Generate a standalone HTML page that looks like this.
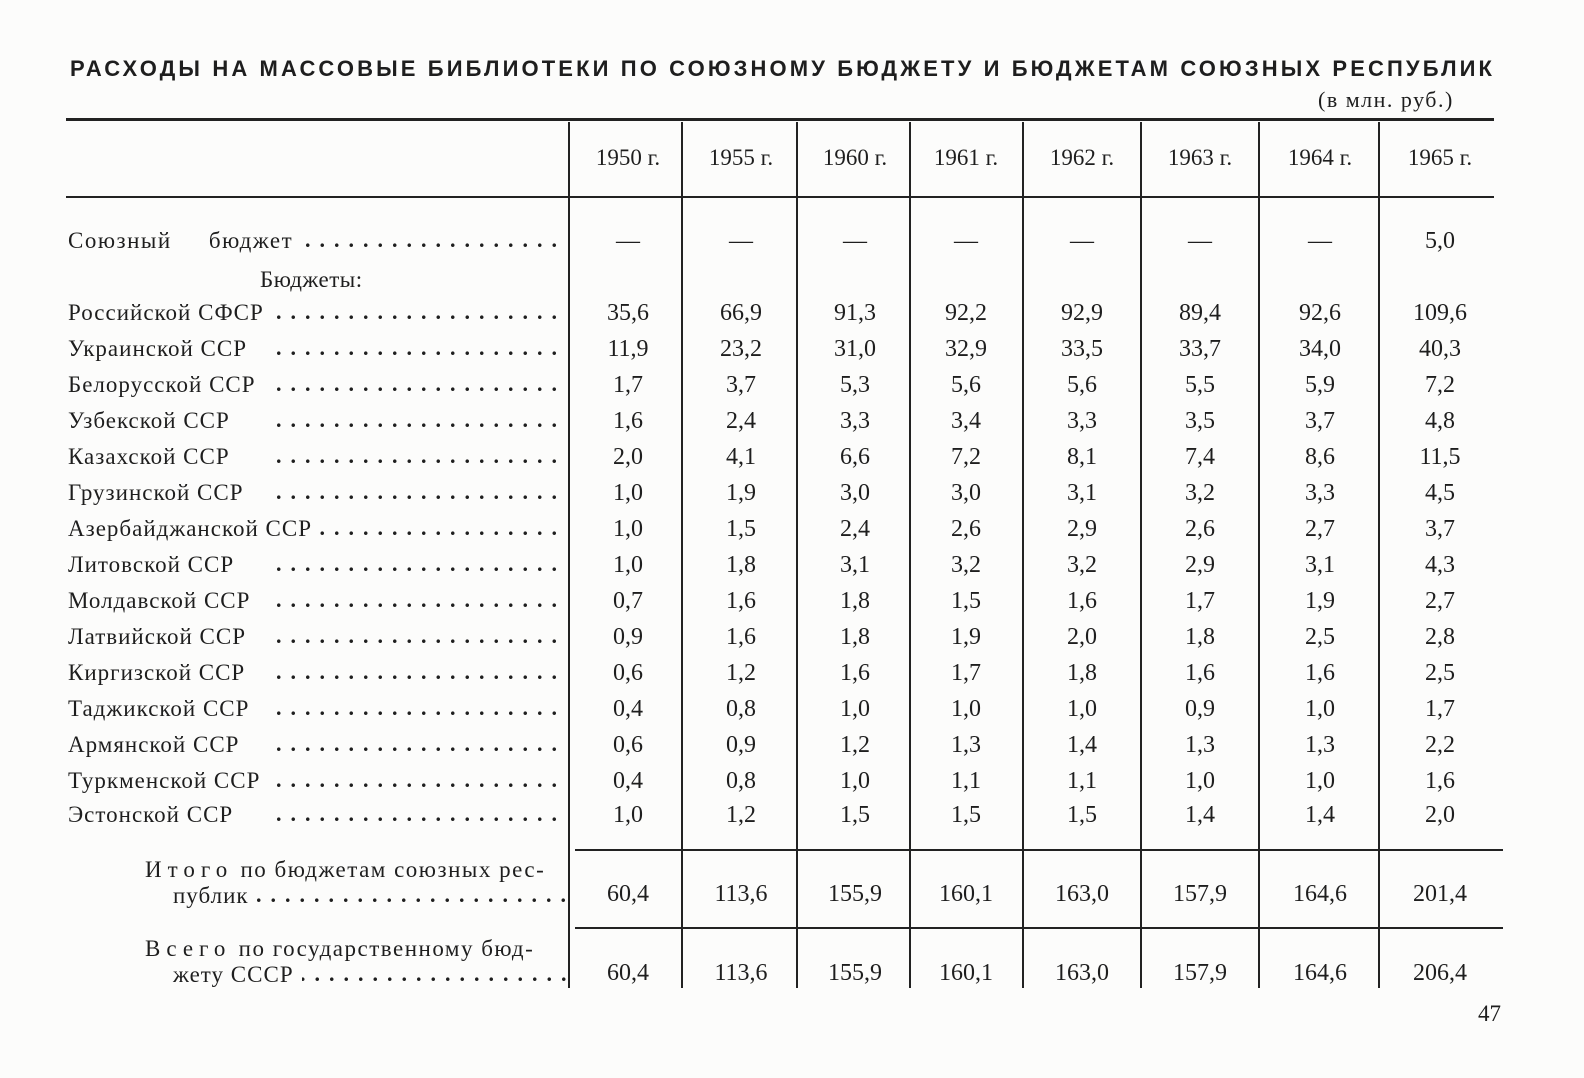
<!DOCTYPE html>
<html><head><meta charset="utf-8"><style>
body{margin:0;width:1584px;height:1078px;background:#fcfcfb;position:relative;overflow:hidden;font-family:"Liberation Serif",serif;color:#1e1e1e}
div{position:absolute;white-space:nowrap;line-height:1}
.t{font-size:23px}
.v{font-size:24px;width:110px;text-align:center}
.h{position:absolute;background:#222}
.d{font-size:22px;letter-spacing:9px;overflow:hidden;font-weight:bold}
</style></head><body>
<svg style="position:absolute;left:0;top:0" width="1584" height="100"><text x="70" y="76" font-family="Liberation Sans, sans-serif" font-weight="bold" font-size="22" textLength="1422" lengthAdjust="spacing" fill="#1e1e1e">РАСХОДЫ НА МАССОВЫЕ БИБЛИОТЕКИ ПО СОЮЗНОМУ БЮДЖЕТУ И БЮДЖЕТАМ СОЮЗНЫХ РЕСПУБЛИК</text></svg>
<div class="t" style="left:1318px;top:89px;font-size:22px;letter-spacing:1.5px">(в млн. руб.)</div>
<div class="h" style="left:66px;top:118px;width:1428px;height:3px"></div>
<div class="h" style="left:66px;top:196px;width:1428px;height:2px"></div>
<div class="h" style="left:575px;top:849px;width:928px;height:2px"></div>
<div class="h" style="left:575px;top:927px;width:928px;height:2px"></div>
<div class="h" style="left:568px;top:122px;width:2px;height:866px"></div>
<div class="h" style="left:681px;top:122px;width:2px;height:866px"></div>
<div class="h" style="left:796px;top:122px;width:2px;height:866px"></div>
<div class="h" style="left:909px;top:122px;width:2px;height:866px"></div>
<div class="h" style="left:1022px;top:122px;width:2px;height:866px"></div>
<div class="h" style="left:1140px;top:122px;width:2px;height:866px"></div>
<div class="h" style="left:1258px;top:122px;width:2px;height:866px"></div>
<div class="h" style="left:1378px;top:122px;width:2px;height:866px"></div>
<div id="c"></div>
<script>
var cx=[628,741,855,966,1082,1200,1320,1440];
var H=["1950 г.","1955 г.","1960 г.","1961 г.","1962 г.","1963 г.","1964 г.","1965 г."];
var s="";
H.forEach((h,i)=>{s+=`<div class="v" style="left:${cx[i]-55}px;top:146px;font-size:23px">${h}</div>`});
var R=[
["Союзный бюджет",248,["—","—","—","—","—","—","—","5,0"]],
["Российской СФСР",320,["35,6","66,9","91,3","92,2","92,9","89,4","92,6","109,6"]],
["Украинской ССР",356,["11,9","23,2","31,0","32,9","33,5","33,7","34,0","40,3"]],
["Белорусской ССР",392,["1,7","3,7","5,3","5,6","5,6","5,5","5,9","7,2"]],
["Узбекской ССР",428,["1,6","2,4","3,3","3,4","3,3","3,5","3,7","4,8"]],
["Казахской ССР",464,["2,0","4,1","6,6","7,2","8,1","7,4","8,6","11,5"]],
["Грузинской ССР",500,["1,0","1,9","3,0","3,0","3,1","3,2","3,3","4,5"]],
["Азербайджанской ССР",536,["1,0","1,5","2,4","2,6","2,9","2,6","2,7","3,7"]],
["Литовской ССР",572,["1,0","1,8","3,1","3,2","3,2","2,9","3,1","4,3"]],
["Молдавской ССР",608,["0,7","1,6","1,8","1,5","1,6","1,7","1,9","2,7"]],
["Латвийской ССР",644,["0,9","1,6","1,8","1,9","2,0","1,8","2,5","2,8"]],
["Киргизской ССР",680,["0,6","1,2","1,6","1,7","1,8","1,6","1,6","2,5"]],
["Таджикской ССР",716,["0,4","0,8","1,0","1,0","1,0","0,9","1,0","1,7"]],
["Армянской ССР",752,["0,6","0,9","1,2","1,3","1,4","1,3","1,3","2,2"]],
["Туркменской ССР",788,["0,4","0,8","1,0","1,1","1,1","1,0","1,0","1,6"]],
["Эстонской ССР",822,["1,0","1,2","1,5","1,5","1,5","1,4","1,4","2,0"]]];
R.forEach(r=>{var y=r[1]-19;
s+=`<div class="t" style="left:68px;top:${y}px;letter-spacing:${r[0]=="Союзный бюджет"?"1.5px;word-spacing:30px":"1px"};background:#fcfcfb;z-index:2;padding-right:8px">${r[0]}</div>`;
s+=`<div class="d" style="left:276px;top:${y}px;width:290px">${".".repeat(40)}</div>`;
r[2].forEach((v,i)=>{s+=`<div class="v" style="left:${cx[i]-55}px;top:${y}px">${v}</div>`});});
s+=`<div class="t" style="left:260px;top:268px;letter-spacing:0.5px">Бюджеты:</div>`;
s+=`<div class="t" style="left:145px;top:858px;letter-spacing:1.5px"><span style="letter-spacing:6px">Итого</span> по бюджетам союзных рес-</div>`;
s+=`<div class="t" style="left:173px;top:884px;background:#fcfcfb;z-index:2;padding-right:8px;letter-spacing:1px">публик</div><div class="d" style="left:256px;top:884px;width:310px">${".".repeat(40)}</div>`;
["60,4","113,6","155,9","160,1","163,0","157,9","164,6","201,4"].forEach((v,i)=>{s+=`<div class="v" style="left:${cx[i]-55}px;top:882px">${v}</div>`});
s+=`<div class="t" style="left:145px;top:937px;letter-spacing:1.5px"><span style="letter-spacing:6px">Всего</span> по государственному бюд-</div>`;
s+=`<div class="t" style="left:173px;top:963px;background:#fcfcfb;z-index:2;padding-right:8px;letter-spacing:1px">жету СССР</div><div class="d" style="left:300px;top:963px;width:266px">${".".repeat(40)}</div>`;
["60,4","113,6","155,9","160,1","163,0","157,9","164,6","206,4"].forEach((v,i)=>{s+=`<div class="v" style="left:${cx[i]-55}px;top:961px">${v}</div>`});
s+=`<div class="t" style="left:1478px;top:1002px">47</div>`;
document.getElementById("c").outerHTML=s;
</script>
</body></html>
